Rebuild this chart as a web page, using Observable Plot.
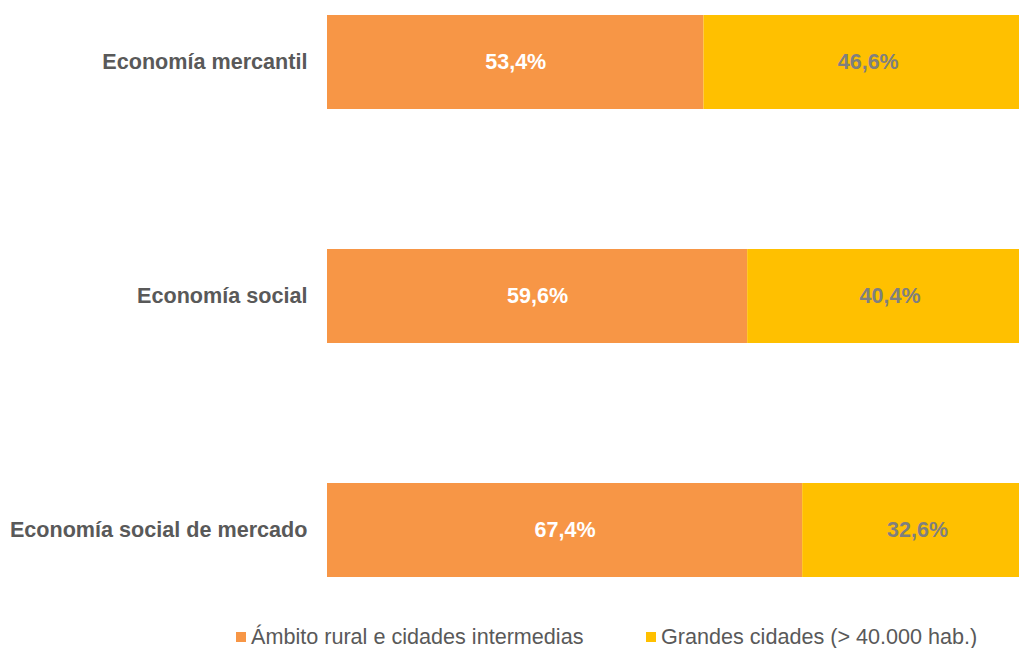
<!DOCTYPE html>
<html>
<head>
<meta charset="utf-8">
<script src="https://cdn.jsdelivr.net/npm/d3@7"></script>
<script src="https://cdn.jsdelivr.net/npm/@observablehq/plot@0.6"></script>
<style>
  body { margin: 0; background: #fff; font-family: "Liberation Sans", Arial, sans-serif; }
  #wrap { position: relative; width: 1019px; height: 648px; overflow: hidden; }
  #chart { width: 1019px; overflow: hidden; }
  .legend { position: absolute; top: 625px; left: 0; width: 1019px; height: 24px; font-size: 21.6px; color: #595959; }
  .item { position: absolute; top: 0; display: flex; align-items: center; height: 24px; white-space: nowrap; }
  .sw { width: 10px; height: 10px; margin-right: 5px; }
</style>
</head>
<body>
<div id="wrap">
  <div id="chart"></div>
  <div class="legend" id="legend"></div>
</div>
<script>
const categories = ["Economía mercantil", "Economía social", "Economía social de mercado"];
const seriesNames = ["Ámbito rural e cidades intermedias", "Grandes cidades (> 40.000 hab.)"];
const ruralValues = [53.4, 59.6, 67.4];
const cityValues = [46.6, 40.4, 32.6];
const seriesColors = ["#F79646", "#FFC000"];
const labelColors = ["#FFFFFF", "#7F7F7F"];

const rows = [];
categories.forEach((c, i) => {
  rows.push({category: c, series: seriesNames[0], k: 0, value: ruralValues[i], start: 0, mid: ruralValues[i] / 2});
  rows.push({category: c, series: seriesNames[1], k: 1, value: cityValues[i], start: ruralValues[i], mid: ruralValues[i] + cityValues[i] / 2});
});
const fmt = v => v.toFixed(1).replace(".", ",") + "%";

const chart = Plot.plot({
  width: 1019,
  height: 620,
  marginLeft: 327,
  marginRight: 0,
  marginTop: 14,
  marginBottom: 43,
  style: {fontFamily: "'Liberation Sans', Arial, sans-serif", background: "#fff", overflow: "hidden"},
  x: {domain: [0, 100], range: [327, 1032], axis: null},
  y: {domain: categories, range: [14, 577], paddingInner: 0.6, paddingOuter: 0, label: null},
  color: {domain: seriesNames, range: seriesColors},
  marks: [
    Plot.barX(rows, {x1: "start", x2: d => d.start + d.value, y: "category", fill: "series"}),
    ...[0, 1].map(k =>
      Plot.text(rows.filter(d => d.k === k), {
        x: "mid", y: "category",
        text: d => fmt(d.value),
        fill: labelColors[k], fontSize: 21.5, fontWeight: "bold"
      })
    ),
    Plot.axisY({tickSize: 0, tickPadding: 20, fontSize: 21.6, fontWeight: "bold", fill: "#595959", label: null})
  ]
});
document.getElementById("chart").appendChild(chart);

const legend = document.getElementById("legend");
const lefts = [236, 646];
seriesNames.forEach((s, k) => {
  const it = document.createElement("div");
  it.className = "item";
  it.style.left = lefts[k] + "px";
  const sw = document.createElement("span");
  sw.className = "sw";
  sw.style.background = seriesColors[k];
  const tx = document.createElement("span");
  tx.textContent = s;
  it.appendChild(sw); it.appendChild(tx);
  legend.appendChild(it);
});
</script>
</body>
</html>
